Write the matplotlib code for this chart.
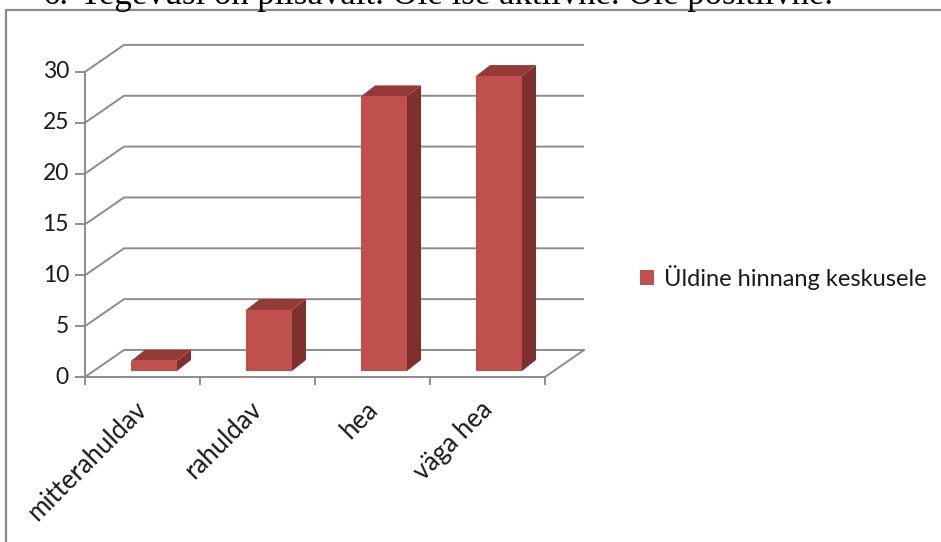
import matplotlib
matplotlib.use('Agg')
import matplotlib.pyplot as plt
from matplotlib.patches import Polygon, Patch
from matplotlib.lines import Line2D

categories = ['mitterahuldav', 'rahuldav', 'hea', 'väga hea']
values = [1, 6, 27, 29]
series_name = 'Üldine hinnang keskusele'
yticks = [0, 5, 10, 15, 20, 25, 30]
heading_num = '6.'
heading_text = 'Tegevusi on piisavalt. Ole ise aktiivne. Ole positiivne.'

FONT = ['Lato', 'DejaVu Sans']
TXT_C = '#1a1a1a'
W, H = 941, 542
fig = plt.figure(figsize=(W / 100, H / 100), dpi=100)
ax = fig.add_axes([0, 0, 1, 1])

px_x = 115.0   # pixels per category
px_y = 10.17   # pixels per value unit
x0_px, y0_px = 85, 377
ax.set_xlim(-0.5 - x0_px / px_x, -0.5 + (W - x0_px) / px_x)
ax.set_ylim(-(H - y0_px) / px_y, y0_px / px_y)
ax.axis('off')

DX = 39 / px_x
DY = 27 / px_y
grid_c = '#8c8c8c'
lw = 1.4
n = len(categories)
xl, xr = -0.5, n - 0.5

# walls / gridlines
for t in yticks:
    ax.plot([xl, xl + DX, xr + DX], [t, t + DY, t + DY], color=grid_c, lw=lw, zorder=1,
            solid_capstyle='butt')
    ax.plot([xl - 9 / px_x, xl], [t, t], color=grid_c, lw=lw, zorder=1)
    ax.text(xl - 16 / px_x, t, str(t), ha='right', va='center', fontsize=16.5,
            family=FONT, color=TXT_C)
ax.plot([xl, xl], [0, yticks[-1]], color=grid_c, lw=lw, zorder=1)
ax.plot([xl, xr, xr + DX], [0, 0, DY], color=grid_c, lw=lw, zorder=1)
for k in range(n + 1):
    ax.plot([xl + k, xl + k], [0, -7 / px_y], color=grid_c, lw=lw, zorder=1)

# bars
f0 = 6 / px_y
bdx, bdy = 14 / px_x, 11 / px_y
front_c, side_c, top_c = '#C0504D', '#7D302E', '#953A37'
for i, v in enumerate(values):
    l, r = i - 0.1, i + 0.3
    b, t = f0, f0 + v
    ax.add_patch(Polygon([(r, b), (r + bdx, b + bdy), (r + bdx, t + bdy), (r, t)],
                         closed=True, fc=side_c, ec='none', zorder=3))
    ax.add_patch(Polygon([(l, t), (r, t), (r + bdx, t + bdy), (l + bdx, t + bdy)],
                         closed=True, fc=top_c, ec='none', zorder=3))
    ax.add_patch(Polygon([(l, b), (r, b), (r, t), (l, t)],
                         closed=True, fc=front_c, ec='none', zorder=4))
    ax.text(i - 0.07, -20 / px_y, categories[i], rotation=45, rotation_mode='anchor',
            ha='right', va='top', fontsize=18.5, family=FONT, color=TXT_C)

# legend
leg = fig.legend(handles=[Patch(fc=front_c, ec='none', label=series_name)],
                 loc='center left', bbox_to_anchor=(640 / W, 1 - 277 / H),
                 frameon=False, borderpad=0, borderaxespad=0,
                 handlelength=0.6, handleheight=0.6, handletextpad=0.4,
                 prop={'family': FONT, 'size': 17})
for txt in leg.get_texts():
    txt.set_color(TXT_C)

# chart border (left and top visible)
fig.add_artist(Line2D([6 / W, 6 / W, 1], [0, 1 - 10 / H, 1 - 10 / H],
                      transform=fig.transFigure, color='#8a8a8a', lw=1.6))

# heading cut at top
base_y = 1 - 4 / H
ht = fig.text(80 / W, base_y, heading_text, family='Liberation Serif', fontsize=22,
              va='baseline', ha='left', color='black')
r = fig.canvas.get_renderer()
wpx = ht.get_window_extent(renderer=r).width
fs = 22 * 750 / wpx
ht.set_fontsize(fs)
fig.text(68 / W, base_y, heading_num, family='Liberation Serif', fontsize=fs,
         va='baseline', ha='right', color='black')

fig.savefig('out.png', dpi=100)
